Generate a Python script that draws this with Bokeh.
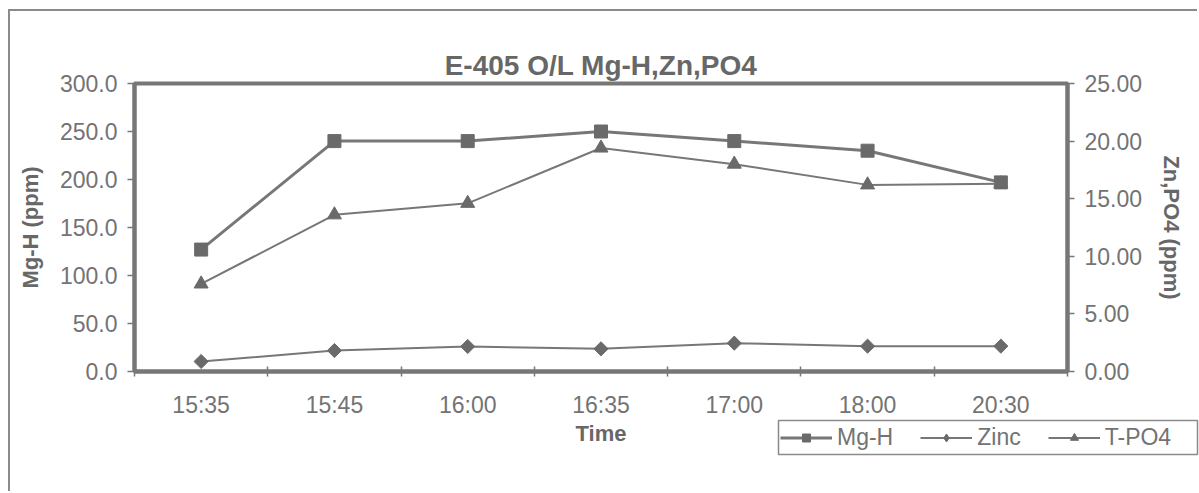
import math
from bokeh.plotting import figure
from bokeh.models import (Range1d, LinearAxis, FixedTicker, Legend, LegendItem,
                          NumeralTickFormatter)
from bokeh.embed import file_html
from bokeh.resources import INLINE

# ---- data ----
times = ["15:35", "15:45", "16:00", "16:35", "17:00", "18:00", "20:30"]
mg_h = [127, 240, 240, 250, 240, 230, 197]          # left axis, ppm
zinc = [0.87, 1.82, 2.17, 1.97, 2.46, 2.20, 2.20]   # right axis, ppm
t_po4 = [7.6, 13.6, 14.6, 19.4, 18.0, 16.2, 16.3]   # right axis, ppm
left_ticks = [0, 50, 100, 150, 200, 250, 300]
right_ticks = [0, 5, 10, 15, 20, 25]
series_names = ["Mg-H", "Zinc", "T-PO4"]

FONT = "Liberation Sans"
GRAY = "#777777"
MARK = "#6a6a6a"
TXT = "#737373"
BOLD_TXT = "#676767"

n = len(times)
xs = [i + 0.5 for i in range(n)]

p = figure(width=1189, height=482, output_backend="svg", toolbar_location=None,
           x_range=Range1d(0, n), y_range=Range1d(left_ticks[0], left_ticks[-1]),
           min_border_left=124, min_border_right=132, min_border_top=72,
           min_border_bottom=122, margin=(9, 0, 0, 8),
           styles={"border-left": "2px solid #8a8a8a", "border-top": "2px solid #8a8a8a"},
           title="E-405 O/L Mg-H,Zn,PO4")
p.extra_y_ranges = {"right": Range1d(right_ticks[0], right_ticks[-1])}

p.background_fill_color = "white"
p.border_fill_color = "white"
p.outline_line_color = GRAY
p.outline_line_width = 4
p.xgrid.visible = False
p.ygrid.visible = False

p.title.align = "center"
p.title.text_font = FONT
p.title.text_font_size = "28px"
p.title.text_font_style = "bold"
p.title.text_color = BOLD_TXT
p.title.standoff = 6

# x axis: labels at category centres, ticks at boundaries
xa = p.xaxis[0]
xa.ticker = FixedTicker(ticks=xs, minor_ticks=list(range(n + 1)))
xa.major_label_overrides = {x: t for x, t in zip(xs, times)}
xa.major_tick_line_color = None
xa.minor_tick_in = 5
xa.minor_tick_out = 5
xa.minor_tick_line_color = GRAY
xa.minor_tick_line_width = 1.5
xa.axis_line_color = GRAY
xa.axis_line_width = 4
xa.major_label_text_font = FONT
xa.major_label_text_font_size = "23px"
xa.major_label_text_color = TXT
xa.major_label_standoff = 14
xa.axis_label = "Time"
xa.axis_label_text_font = FONT
xa.axis_label_text_font_size = "22px"
xa.axis_label_text_font_style = "bold"
xa.axis_label_text_color = BOLD_TXT
xa.axis_label_standoff = 0

ya = p.yaxis[0]
ya.ticker = FixedTicker(ticks=left_ticks, minor_ticks=[])
ya.formatter = NumeralTickFormatter(format="0.0")
ya.major_tick_in = 0
ya.major_tick_out = 7
ya.major_tick_line_color = GRAY
ya.major_tick_line_width = 1.5
ya.axis_line_color = GRAY
ya.axis_line_width = 4
ya.major_label_text_font = FONT
ya.major_label_text_font_size = "23px"
ya.major_label_text_color = TXT
ya.major_label_standoff = 10
ya.axis_label = "Mg-H (ppm)"
ya.axis_label_text_font = FONT
ya.axis_label_text_font_size = "22px"
ya.axis_label_text_font_style = "bold"
ya.axis_label_text_color = BOLD_TXT
ya.axis_label_standoff = 14

ra = LinearAxis(y_range_name="right")
ra.ticker = FixedTicker(ticks=right_ticks, minor_ticks=[])
ra.formatter = NumeralTickFormatter(format="0.00")
ra.major_tick_in = 0
ra.major_tick_out = 7
ra.major_tick_line_color = GRAY
ra.major_tick_line_width = 1.5
ra.axis_line_color = GRAY
ra.axis_line_width = 4
ra.major_label_text_font = FONT
ra.major_label_text_font_size = "23px"
ra.major_label_text_color = TXT
ra.major_label_standoff = 10
ra.axis_label = "Zn,PO4 (ppm)"
ra.axis_label_text_font = FONT
ra.axis_label_text_font_size = "22px"
ra.axis_label_text_font_style = "bold"
ra.axis_label_text_color = BOLD_TXT
ra.axis_label_standoff = 14
p.add_layout(ra, "right")

# series styles
line_widths = [3, 2, 2]
markers = [dict(marker="square", size=13, angle=0.0),
           dict(marker="square", size=10, angle=math.pi / 4),
           dict(marker="triangle", size=14, angle=0.0)]
legend_markers = ["square", "diamond", "triangle"]
ranges = ["default", "right", "right"]
values = [mg_h, zinc, t_po4]

for vals, lw, mk, rn in zip(values, line_widths, markers, ranges):
    p.line(xs, vals, line_color=GRAY, line_width=lw, y_range_name=rn)
    p.scatter(xs, vals, fill_color=MARK, line_color=MARK, y_range_name=rn, **mk)

# legend: its own small figure laid over the main one (outside the main frame);
# the legend box is this small figure's frame outline.
# Its renderers hold the same series but lie outside this small figure's view.
lf = figure(width=423, height=38, output_backend="svg", toolbar_location=None,
            x_axis_type=None, y_axis_type=None, min_border=2, title=None,
            x_range=Range1d(0, 1), y_range=Range1d(-1000, -999),
            margin=(420 - 493, 0, 0, 776))
lf.outline_line_color = "#8a8a8a"
lf.outline_line_width = 1.5
lf.background_fill_color = "white"
lf.background_fill_alpha = 1
lf.border_fill_alpha = 0
items = []
for name, vals, lw, lm in zip(series_names, values, line_widths, legend_markers):
    lr = lf.line(xs, vals, line_color=GRAY, line_width=lw)
    sr = lf.scatter(xs, vals, marker=lm, fill_color=MARK, line_color=MARK)
    items.append(LegendItem(label=name, renderers=[lr, sr]))

legend = Legend(items=items, orientation="horizontal", location="left")
legend.label_text_font = FONT
legend.label_text_font_size = "23px"
legend.label_text_color = TXT
legend.glyph_width = 52
legend.glyph_height = 20
legend.label_height = 20
legend.label_standoff = 5
legend.spacing = 27
legend.padding = 8
legend.margin = 2
legend.border_line_color = None
legend.background_fill_alpha = 0
lf.add_layout(legend, "center")

open("out.html", "w").write(file_html([p, lf], INLINE))
